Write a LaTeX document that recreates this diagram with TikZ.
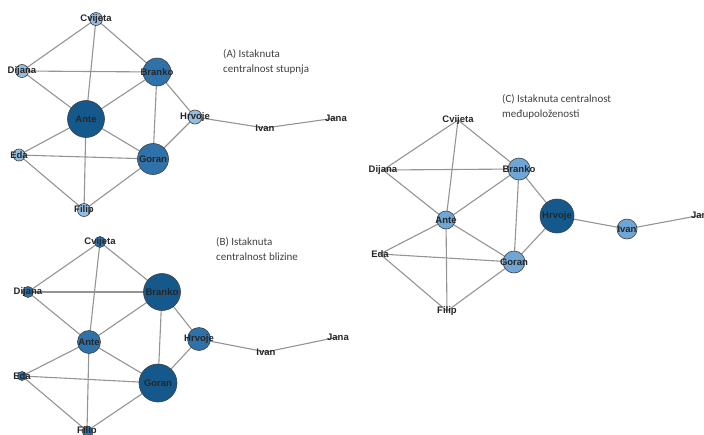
\documentclass[tikz,border=0pt]{standalone}
\usepackage{fontspec}
\setmainfont{Liberation Sans}
\newfontfamily\capfont{Carlito}
\usetikzlibrary{backgrounds}
\pgfdeclarelayer{background}
\pgfdeclarelayer{foreground}
\pgfsetlayers{background,main,foreground}
\definecolor{vdark}{HTML}{15598C}
\definecolor{vmid}{HTML}{2F72AA}
\definecolor{vsoft}{HTML}{6FA6D6}
\definecolor{vpale}{HTML}{94BDE2}
\tikzstyle{vert}=[circle,draw=black!75,line width=.6pt,inner sep=0pt,minimum size=#1]
\tikzstyle{lbl}=[inner sep=0pt,font=\bfseries\fontsize{9.5}{9.5}\selectfont,text=black!85]
\tikzstyle{edge}=[draw=black!42,line width=1.1pt]
\tikzstyle{caption}=[align=left,anchor=north west,inner sep=0pt,font=\capfont\fontsize{11}{15}\selectfont,text=black!75]

\begin{document}
\begin{tikzpicture}[x=1pt,y=-1pt]
    \useasboundingbox (0,0) rectangle (704,434);

    % (A) degree
    \node[vert=13,fill=vpale,label={[lbl]center:Cvijeta}] (acvijeta) at (96,19) {};
    \node[vert=13,fill=vpale,label={[lbl]center:Dijana}] (adijana) at (22,71) {};
    \node[vert=28,fill=vmid,label={[lbl]center:Branko}] (abranko) at (157,72) {};
    \node[vert=37,fill=vdark,label={[lbl]center:Ante}] (aante) at (86,119) {};
    \node[vert=14,fill=vpale,label={[lbl]center:Hrvoje}] (ahrvoje) at (195,117) {};
    \node[lbl] (aivan) at (265,128) {Ivan};
    \node[lbl] (ajana) at (336,118) {Jana};
    \node[vert=12,fill=vpale,label={[lbl]center:Eda}] (aeda) at (19,155) {};
    \node[vert=31,fill=vmid,label={[lbl]center:Goran}] (agoran) at (153,159) {};
    \node[vert=13,fill=vpale,label={[lbl]center:Filip}] (afilip) at (84,210) {};
    \node[caption] (capa) at (223,49) {(A) Istaknuta\\centralnost stupnja};

    % (B) closeness
    \node[vert=11,fill=vmid,label={[lbl]center:Cvijeta}] (bcvijeta) at (100,242) {};
    \node[vert=11,fill=vmid,label={[lbl]center:Dijana}] (bdijana) at (28,292) {};
    \node[vert=37,fill=vdark,label={[lbl]center:Branko}] (bbranko) at (162,292) {};
    \node[vert=23,fill=vmid,label={[lbl]center:Ante}] (bante) at (89,342) {};
    \node[vert=23,fill=vmid,label={[lbl]center:Hrvoje}] (bhrvoje) at (199,339) {};
    \node[lbl] (bivan) at (266,352) {Ivan};
    \node[lbl] (bjana) at (338,337) {Jana};
    \node[vert=9,fill=vmid,label={[lbl]center:Eda}] (beda) at (22,376) {};
    \node[vert=38,fill=vdark,label={[lbl]center:Goran}] (bgoran) at (158,383) {};
    \node[vert=10,fill=vmid,label={[lbl]center:Filip}] (bfilip) at (87,431) {};
    \node[caption] (capb) at (216,237) {(B) Istaknuta\\centralnost blizine};

    % (C) betweenness
    \node[lbl] (ccvijeta) at (458,120) {Cvijeta};
    \node[lbl] (cdijana) at (383,170) {Dijana};
    \node[vert=22,fill=vsoft,label={[lbl]center:Branko}] (cbranko) at (519,169) {};
    \node[vert=18,fill=vsoft,label={[lbl]center:Ante}] (cante) at (446,220) {};
    \node[vert=34,fill=vdark,label={[lbl]center:Hrvoje}] (chrvoje) at (557,216) {};
    \node[vert=20,fill=vsoft,label={[lbl]center:Ivan}] (civan) at (627,229) {};
    \node[lbl] (cjana) at (702,215) {Jana};
    \node[lbl] (ceda) at (380,254) {Eda};
    \node[vert=22,fill=vsoft,label={[lbl]center:Goran}] (cgoran) at (514,262) {};
    \node[lbl] (cfilip) at (447,311) {Filip};
    \node[caption] (capc) at (502,94) {(C) Istaknuta centralnost\\međupoloženosti};

    \begin{pgfonlayer}{background}
    \foreach \g in {a,b,c}
      \foreach \u/\v in {cvijeta/dijana,cvijeta/ante,cvijeta/branko,dijana/branko,
          dijana/ante,ante/branko,ante/eda,ante/goran,ante/filip,branko/goran,
          branko/hrvoje,hrvoje/goran,hrvoje/ivan,ivan/jana,eda/goran,eda/filip,goran/filip}
        \draw[edge] (\g\u.center) -- (\g\v.center);
    \end{pgfonlayer}
  \end{tikzpicture}
\end{document}
